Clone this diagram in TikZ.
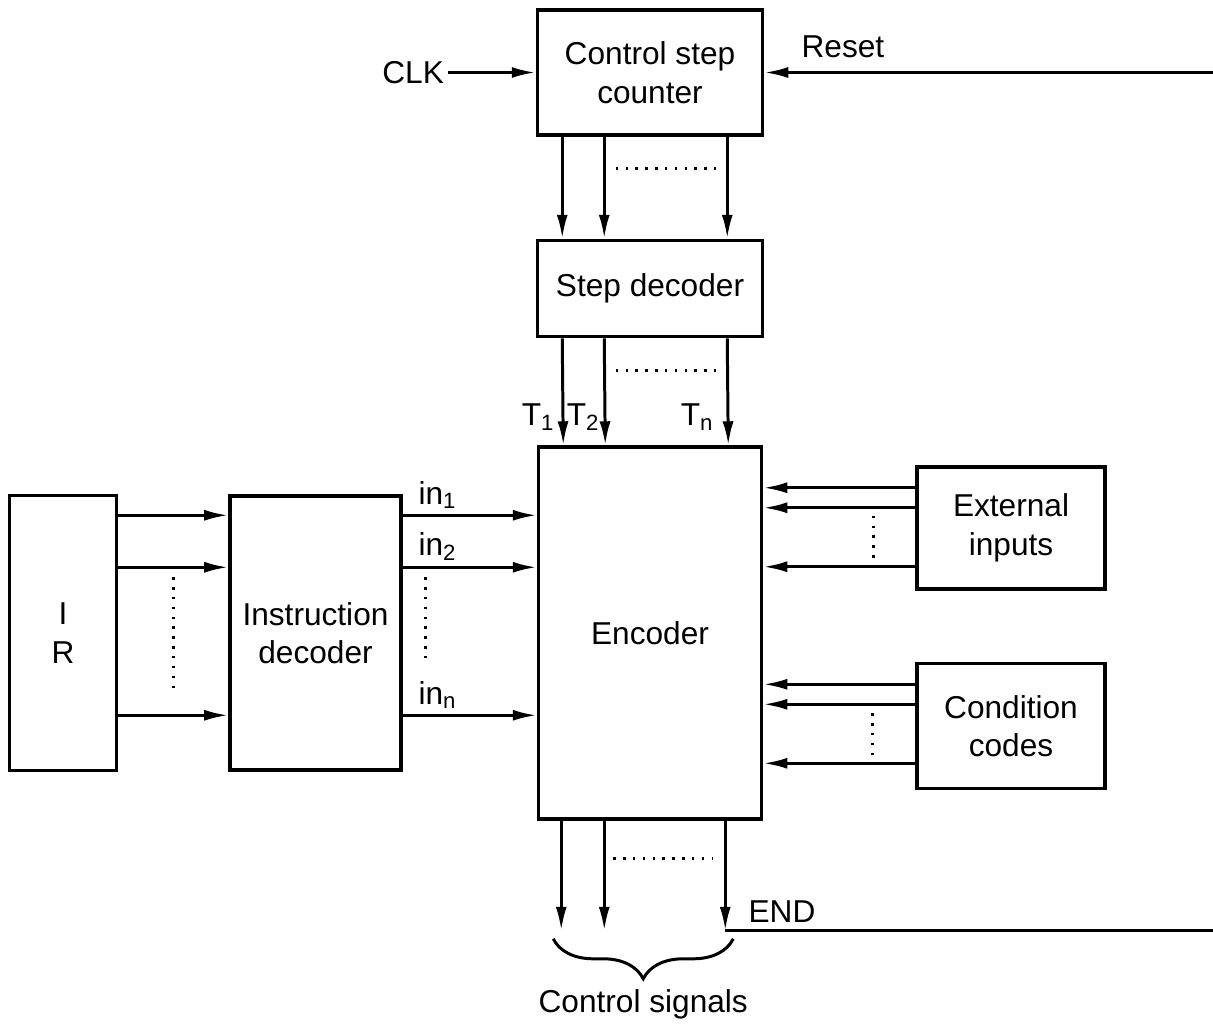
\documentclass[tikz,border=0pt]{standalone}
\usepackage{fontspec}
\setmainfont{Liberation Sans}
\usepackage{tikz}
\usetikzlibrary{arrows.meta, positioning, calc, decorations.pathreplacing}
\tikzset{
  block/.style={rectangle, draw=black, fill=white, align=center,
    line width=2pt, font=\fontsize{18}{22}\selectfont},
  lbl/.style={font=\fontsize{18}{22}\selectfont, inner sep=2pt},
  arrow/.style={-{Latex[length=0.48cm, width=0.22cm]}, line width=1.7pt, color=black},
  line/.style={line width=1.7pt, color=black},
  dots/.style={line width=1.8pt, dash pattern=on 1.4pt off 4.2pt}
}

\begin{document}
\begin{tikzpicture}
  \useasboundingbox (0,0) rectangle (24.26,-20.5);

  % Blocks
  \node[block, minimum width=4.5cm, minimum height=2.5cm] (cnt) at (13.0,-1.45) {Control step\\counter};
  \node[block, minimum width=4.5cm, minimum height=1.92cm, below=2.04cm of cnt] (stp) {Step decoder};
  \node[block, minimum width=4.46cm, minimum height=7.44cm, below=2.14cm of stp] (enc) {Encoder};
  \node[block, minimum width=3.42cm, minimum height=5.48cm, left=2.68cm of enc] (idd) {Instruction\\decoder};
  \node[block, minimum width=2.14cm, minimum height=5.5cm, left=2.2cm of idd] (ir) {I\\R};
  \node[block, minimum width=3.76cm, minimum height=2.44cm, anchor=north west] (ext) at ($(enc.north east)+(3.04,-0.4)$) {External\\inputs};
  \node[block, minimum width=3.76cm, minimum height=2.5cm, below=1.42cm of ext] (cc) {Condition\\codes};

  % Clock and reset
  \node[lbl, left=1.76cm of cnt.west] (clk) {CLK};
  \draw[arrow] (clk) -- (cnt.west);
  \coordinate (rst) at ($(cnt.east)+(9.1,0)$);
  \draw[arrow] (rst) -- (cnt.east);
  \node[lbl, above right=0.22cm and 0.67cm of cnt.east] (rstlbl) {Reset};

  % Counter -> step decoder -> encoder
  \foreach \dx in {0.53,1.37,3.83} {
    \draw[arrow] ($(cnt.south west)+(\dx,0)$) -- ($(stp.north west)+(\dx,0)$);
    \draw[arrow] ($(stp.south west)+(\dx,0)$) -- ($(enc.north west)+(\dx,0)$);
  }
  \draw[dots] ($(cnt.south west)+(1.6,-0.64)$) -- ($(cnt.south west)+(3.6,-0.64)$);
  \draw[dots] ($(stp.south west)+(1.6,-0.64)$) -- ($(stp.south west)+(3.6,-0.64)$);
  \node[lbl, anchor=south east] (t1) at ($(enc.north west)+(0.43,0.22)$) {T\textsubscript{1}};
  \node[lbl, anchor=south east] (t2) at ($(enc.north west)+(1.33,0.22)$) {T\textsubscript{2}};
  \node[lbl, anchor=south east] (tn) at ($(enc.north west)+(3.61,0.22)$) {T\textsubscript{n}};

  % IR -> instruction decoder -> encoder
  \foreach \dy/\n in {0.42/1,1.46/2,4.42/3} {
    \coordinate (r\n) at ($(idd.north west)+(0,-\dy)$);
    \draw[arrow] (ir.east |- r\n) -- (r\n);
    \draw[arrow] (idd.east |- r\n) -- (enc.west |- r\n);
  }
  \draw[dots] ($(ir.east |- r2)!0.5!(r2)+(0,-0.2)$) -- ($(ir.east |- r3)!0.5!(r3)+(0,0.4)$);
  \draw[dots] ($(idd.east |- r2)+(0.45,-0.2)$) -- ($(idd.east |- r3)+(0.45,1.1)$);
  \node[lbl, anchor=south west] (in1) at ($(idd.east |- r1)+(0.24,0.05)$) {in\textsubscript{1}};
  \node[lbl, anchor=south west] (in2) at ($(idd.east |- r2)+(0.24,0.05)$) {in\textsubscript{2}};
  \node[lbl, anchor=south west] (inn) at ($(idd.east |- r3)+(0.24,0.05)$) {in\textsubscript{n}};

  % External inputs and condition codes -> encoder
  \foreach \dy/\n in {0.45/1,0.85/2,2.03/3} {
    \coordinate (e\n) at ($(ext.north west)+(0,-\dy)$);
    \coordinate (c\n) at ($(cc.north west)+(0,-\dy)$);
    \draw[arrow] (e\n) -- (enc.east |- e\n);
    \draw[arrow] (c\n) -- (enc.east |- c\n);
  }
  \draw[dots] ($(e2)+(-0.84,-0.16)$) -- ($(e3)+(-0.84,0.14)$);
  \draw[dots] ($(c2)+(-0.86,-0.18)$) -- ($(c3)+(-0.86,0.16)$);

  % Control signals
  \foreach \dx/\n in {0.49/1,1.35/2,3.77/3} {
    \coordinate (o\n) at ($(enc.south west)+(\dx,-2.2)$);
    \draw[arrow] ($(enc.south west)+(\dx,0)$) -- (o\n);
  }
  \draw[dots] ($(enc.south west)+(1.53,-0.76)$) -- ($(enc.south west)+(3.53,-0.76)$);
  \coordinate (endr) at ($(o3)+(9.8,0)$);
  \draw[line] (o3) -- (endr);
  \node[lbl, above right=0.08cm and 0.39cm of o3] (endlbl) {END};
  \draw[line, decorate, decoration={brace, mirror, amplitude=0.8cm}]
    ($(o1)+(-0.16,-0.16)$) -- ($(o3)+(0.16,-0.16)$);
  \node[lbl] (ctl) at ($(o1)!0.5!(o3)+(0,-1.48)$) {Control signals};
\end{tikzpicture}
\end{document}
